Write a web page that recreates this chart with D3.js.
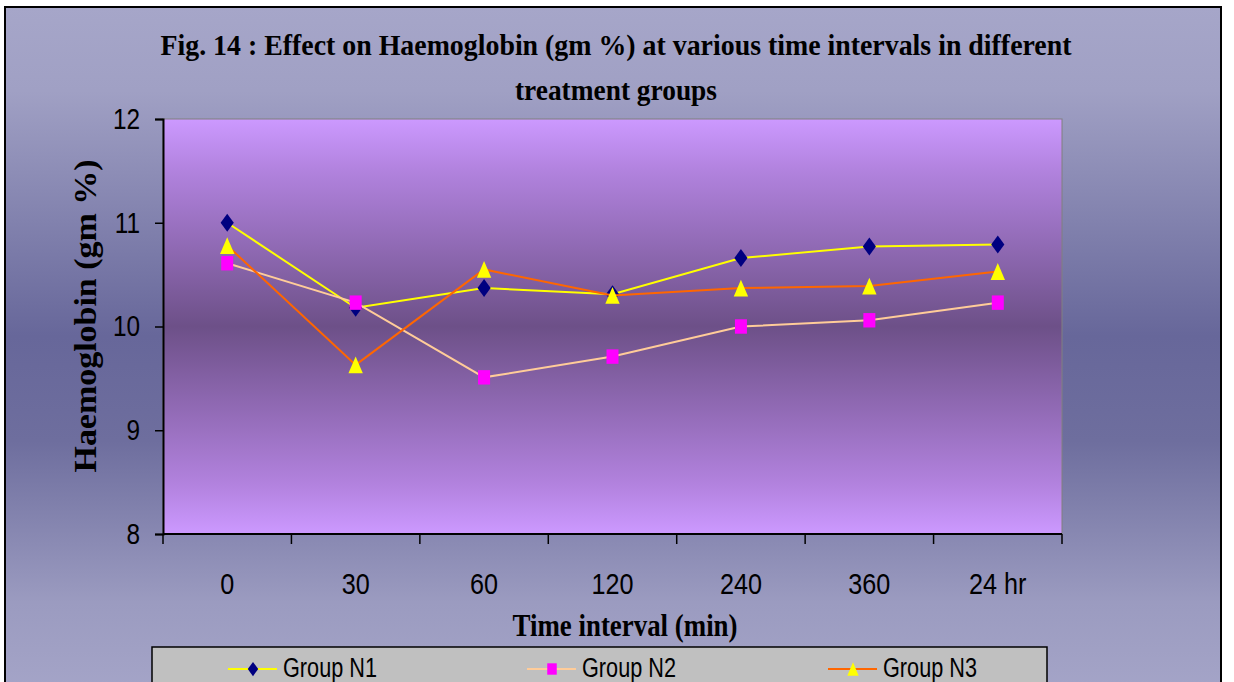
<!DOCTYPE html>
<html>
<head>
<meta charset="utf-8">
<script src="https://cdn.jsdelivr.net/npm/d3@7"></script>
<style>
  html, body { margin: 0; padding: 0; background: #ffffff; }
  svg { display: block; }
</style>
</head>
<body>
<div id="chart"></div>
<script>
// Haemoglobin (gm %) at successive time points for three treatment groups
const timeLabels = ["0", "30", "60", "120", "240", "360", "24 hr"];
const groupN1 = [11.0, 10.18, 10.37, 10.31, 10.66, 10.77, 10.79];
const groupN2 = [10.61, 10.23, 9.51, 9.71, 10.0, 10.06, 10.23];
const groupN3 = [10.78, 9.63, 10.55, 10.30, 10.37, 10.39, 10.53];
const yTicks = [8, 9, 10, 11, 12];
const seriesNames = ["Group N1", "Group N2", "Group N3"];

const W = 1234, H = 682;
const plot = { left: 163, top: 119, right: 1062, bottom: 534 };

const series = [
  { name: seriesNames[0], values: groupN1, line: "#FFFF00", fill: "#000080", shape: "diamond" },
  { name: seriesNames[1], values: groupN2, line: "#FFCC99", fill: "#FF00FF", shape: "square" },
  { name: seriesNames[2], values: groupN3, line: "#FF6600", fill: "#FFFF00", shape: "triangle" }
];

const svg = d3.select("#chart").append("svg")
  .attr("width", W).attr("height", H);

const defs = svg.append("defs");
const outerGrad = defs.append("linearGradient").attr("id", "outerBg")
  .attr("x1", 0).attr("y1", 0).attr("x2", 0).attr("y2", 1);
[[0, "#A6A6C9"], [0.12, "#A0A0C4"], [0.47, "#67679A"], [0.62, "#6E6E9E"], [0.85, "#9B9BC0"], [1, "#A6A6C9"]]
  .forEach(([o, c]) => outerGrad.append("stop").attr("offset", o).attr("stop-color", c));

const plotGrad = defs.append("linearGradient").attr("id", "plotBg")
  .attr("x1", 0).attr("y1", 0).attr("x2", 0).attr("y2", 1);
[[0, "#CC99FF"], [0.12, "#B283DF"], [0.5, "#6D5088"], [0.88, "#B282DE"], [1, "#CC99FF"]]
  .forEach(([o, c]) => plotGrad.append("stop").attr("offset", o).attr("stop-color", c));

// chart area frame
svg.append("rect")
  .attr("x", 5).attr("y", 7).attr("width", 1216).attr("height", 700)
  .attr("fill", "url(#outerBg)").attr("stroke", "#000").attr("stroke-width", 2);

// plot area
svg.append("rect")
  .attr("x", plot.left).attr("y", plot.top)
  .attr("width", plot.right - plot.left).attr("height", plot.bottom - plot.top)
  .attr("fill", "url(#plotBg)").attr("stroke", "#808080").attr("stroke-width", 1);

const x = d3.scaleBand().domain(timeLabels).range([plot.left, plot.right]).padding(0);
const y = d3.scaleLinear().domain([8, 12]).range([plot.bottom, plot.top]);

// squeeze rendered text horizontally to a narrower width
function condense(sel, k) {
  sel.each(function () {
    const len = this.getComputedTextLength();
    d3.select(this).attr("textLength", len * k).attr("lengthAdjust", "spacingAndGlyphs");
  });
}

// y axis
const yAxis = svg.append("g")
  .attr("transform", `translate(${plot.left},0)`)
  .call(d3.axisLeft(y).tickValues(yTicks).tickFormat(d3.format("d")).tickSize(8).tickPadding(15));
yAxis.select(".domain").attr("stroke", "#000").attr("stroke-width", 2);
yAxis.selectAll(".tick line").attr("stroke", "#000").attr("stroke-width", 1.5);
yAxis.selectAll(".tick text")
  .attr("font-family", "'Liberation Sans', Arial, sans-serif")
  .attr("font-size", 29).attr("fill", "#000")
  .call(condense, 0.84);

// x axis: ticks sit on category boundaries, labels at category centres
const xAxisG = svg.append("g").attr("transform", `translate(0,${plot.bottom})`);
xAxisG.append("line")
  .attr("x1", plot.left).attr("x2", plot.right)
  .attr("stroke", "#000").attr("stroke-width", 2);
const bounds = timeLabels.map(d => x(d)).concat([x(timeLabels[timeLabels.length - 1]) + x.bandwidth()]);
xAxisG.selectAll("line.tk").data(bounds).join("line").attr("class", "tk")
  .attr("x1", d => d).attr("x2", d => d).attr("y1", 0).attr("y2", 10)
  .attr("stroke", "#000").attr("stroke-width", 1.5);
xAxisG.selectAll("text").data(timeLabels).join("text")
  .attr("x", d => x(d) + x.bandwidth() / 2).attr("y", 60)
  .attr("text-anchor", "middle")
  .attr("font-family", "'Liberation Sans', Arial, sans-serif")
  .attr("font-size", 30).attr("fill", "#000")
  .text(d => d)
  .call(condense, 0.84);

// titles
const serif = "'Liberation Serif', 'Times New Roman', serif";
svg.append("text").attr("x", 616).attr("y", 55).attr("text-anchor", "middle")
  .attr("font-family", serif).attr("font-weight", "bold").attr("font-size", 30)
  .attr("textLength", 911).attr("lengthAdjust", "spacingAndGlyphs")
  .text("Fig. 14 :  Effect on Haemoglobin (gm %) at various time intervals in different");
svg.append("text").attr("x", 616).attr("y", 100).attr("text-anchor", "middle")
  .attr("font-family", serif).attr("font-weight", "bold").attr("font-size", 30)
  .attr("textLength", 202).attr("lengthAdjust", "spacingAndGlyphs")
  .text("treatment groups");
svg.append("text").attr("x", 625).attr("y", 636).attr("text-anchor", "middle")
  .attr("font-family", serif).attr("font-weight", "bold").attr("font-size", 32)
  .attr("textLength", 225).attr("lengthAdjust", "spacingAndGlyphs")
  .text("Time interval (min)");
svg.append("text").attr("transform", "translate(96,316) rotate(-90)").attr("text-anchor", "middle")
  .attr("font-family", serif).attr("font-weight", "bold").attr("font-size", 32)
  .attr("textLength", 313).attr("lengthAdjust", "spacingAndGlyphs")
  .text("Haemoglobin (gm %)");

// marker shapes
function markerPath(shape, s) {
  if (shape === "diamond") return `M0,${-7.5 * s}L${5.5 * s},0L0,${7.5 * s}L${-5.5 * s},0Z`;
  if (shape === "square") return `M${-5 * s},${-6 * s}H${5 * s}V${6 * s}H${-5 * s}Z`;
  return `M0,${-7 * s}L${6 * s},${7 * s}H${-6 * s}Z`;
}

const line = d3.line()
  .x((d, i) => x(timeLabels[i]) + x.bandwidth() / 2)
  .y(d => y(d));

series.forEach(s => {
  const g = svg.append("g").attr("class", "series");
  g.append("path").attr("d", line(s.values))
    .attr("fill", "none").attr("stroke", s.line).attr("stroke-width", 2);
  g.selectAll("path.mk").data(s.values).join("path").attr("class", "mk")
    .attr("transform", (d, i) => `translate(${x(timeLabels[i]) + x.bandwidth() / 2},${y(d)})`)
    .attr("d", markerPath(s.shape, 1.2))
    .attr("fill", s.fill);
});

// legend
const legend = svg.append("g");
legend.append("rect").attr("x", 152).attr("y", 647).attr("width", 895).attr("height", 60)
  .attr("fill", "#C0C0C0").attr("stroke", "#000").attr("stroke-width", 1.5);
const legendX = [228, 527, 828];
series.forEach((s, i) => {
  const lx = legendX[i], ly = 669;
  legend.append("line").attr("x1", lx).attr("x2", lx + 49).attr("y1", ly).attr("y2", ly)
    .attr("stroke", s.line).attr("stroke-width", 2);
  legend.append("path").attr("transform", `translate(${lx + 25},${ly})`)
    .attr("d", markerPath(s.shape, 0.95)).attr("fill", s.fill);
  legend.append("text").attr("x", lx + 55).attr("y", 677)
    .attr("font-family", "'Liberation Sans', Arial, sans-serif")
    .attr("font-size", 27).attr("fill", "#000")
    .attr("textLength", 94).attr("lengthAdjust", "spacingAndGlyphs")
    .text(s.name);
});
</script>
</body>
</html>
